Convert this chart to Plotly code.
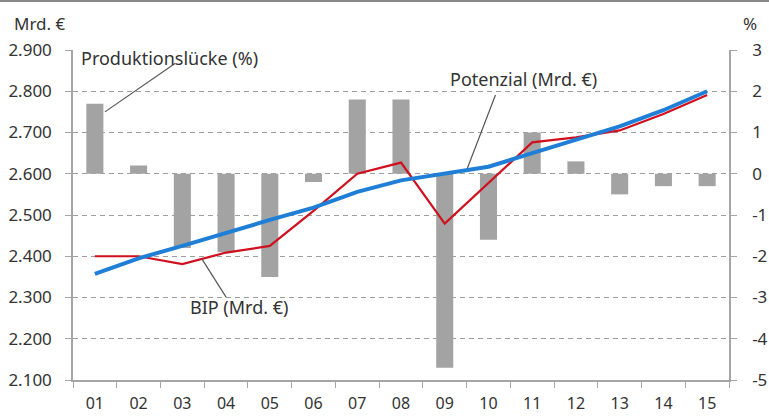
import plotly.graph_objects as go

years = ["01", "02", "03", "04", "05", "06", "07", "08", "09", "10", "11", "12", "13", "14", "15"]
gap_pct = [1.7, 0.2, -1.8, -1.9, -2.5, -0.2, 1.8, 1.8, -4.7, -1.6, 1.0, 0.3, -0.5, -0.3, -0.3]
bip = [2400, 2400, 2381, 2409, 2425, 2510, 2600, 2627, 2479, 2578, 2676, 2688, 2705, 2745, 2791]
potenzial = [2357, 2395, 2425, 2457, 2488, 2518, 2556, 2584, 2600, 2617, 2650, 2682, 2715, 2754, 2800]

left_ticks = [2100, 2200, 2300, 2400, 2500, 2600, 2700, 2800, 2900]
left_text = ["2.100", "2.200", "2.300", "2.400", "2.500", "2.600", "2.700", "2.800", "2.900"]
right_ticks = [-5, -4, -3, -2, -1, 0, 1, 2, 3]
right_text = ["-5", "-4", "-3", "-2", "-1", "0", "1", "2", "3"]

FONT = "Noto Sans"
TXT = "#333333"
AX = "#a6a6a6"

L, R, T, B = 73, 40, 50, 36
PW, PH = 769 - L - R, 416 - T - B


def px(x):
    return (x - L) / PW


def py(y):
    return (416 - B - y) / PH


fig = go.Figure()
fig.add_trace(go.Bar(x=years, y=gap_pct, yaxis="y", marker=dict(color="#a3a3a3", line=dict(width=0)),
                     width=0.39, name="Produktionslücke (%)"))
fig.add_trace(go.Scatter(x=years, y=bip, yaxis="y2", mode="lines",
                         line=dict(color="#d0101e", width=2.2), name="BIP (Mrd. €)"))
fig.add_trace(go.Scatter(x=years, y=potenzial, yaxis="y2", mode="lines",
                         line=dict(color="#1f7fd6", width=4), name="Potenzial (Mrd. €)"))

fig.update_layout(
    width=769, height=416,
    margin=dict(l=L, r=R, t=T, b=B, autoexpand=False),
    paper_bgcolor="white", plot_bgcolor="white",
    showlegend=False,
    font=dict(family=FONT, size=16, color=TXT),
    xaxis=dict(type="category", range=[-0.5, 14.5], tickson="boundaries",
               ticks="outside", ticklen=6, tickcolor=AX, showgrid=False,
               showline=True, linecolor=AX, linewidth=1.5, zeroline=False,
               ticklabelstandoff=8, tickfont=dict(size=16, color=TXT)),
    yaxis=dict(side="right", range=[-5, 3], tickvals=right_ticks, ticktext=right_text,
               ticks="outside", ticklen=6, tickcolor=AX, showline=True, linecolor=AX,
               linewidth=1.5, showgrid=True, gridcolor="#9e9e9e", griddash="5px,4px",
               gridwidth=1.2, zeroline=False, ticklabelstandoff=12,
               tickfont=dict(size=17, color=TXT)),
    yaxis2=dict(side="left", overlaying="y", range=[2100, 2900], tickvals=left_ticks,
                ticktext=left_text, ticks="outside", ticklen=6, tickcolor=AX,
                showline=True, linecolor=AX, linewidth=1.5, showgrid=False,
                zeroline=False, ticklabelstandoff=10, tickfont=dict(size=17, color=TXT)),
)

# pointer lines
for (x0, y0, x1, y1) in [(0.23, 2750, 1.84, 2868), (9.16, 2791, 8.52, 2614), (2.45, 2393, 3.0, 2301)]:
    fig.add_shape(type="line", xref="x", yref="y2", x0=x0, y0=y0, x1=x1, y1=y1,
                  line=dict(color="#555555", width=1.2))


def label(text, x, y, size):
    fig.add_annotation(text=text, xref="paper", yref="paper", x=px(x), y=py(y),
                       xanchor="center", yanchor="middle", showarrow=False,
                       font=dict(size=size, color=TXT))


label("Produktionslücke (%)", 169, 58, 18)
label("Potenzial (Mrd. €)", 523, 79, 18)
label("BIP (Mrd. €)", 239, 307, 18)
label("Mrd. €", 40, 24, 17)
label("%", 750, 24, 17)

fig.add_shape(type="line", xref="paper", yref="paper", x0=px(0), x1=px(769),
              y0=py(1), y1=py(1), line=dict(color="#888888", width=2))

fig.write_html("out.html", config={"displayModeBar": False},
               post_script="document.body.style.margin='0';")
